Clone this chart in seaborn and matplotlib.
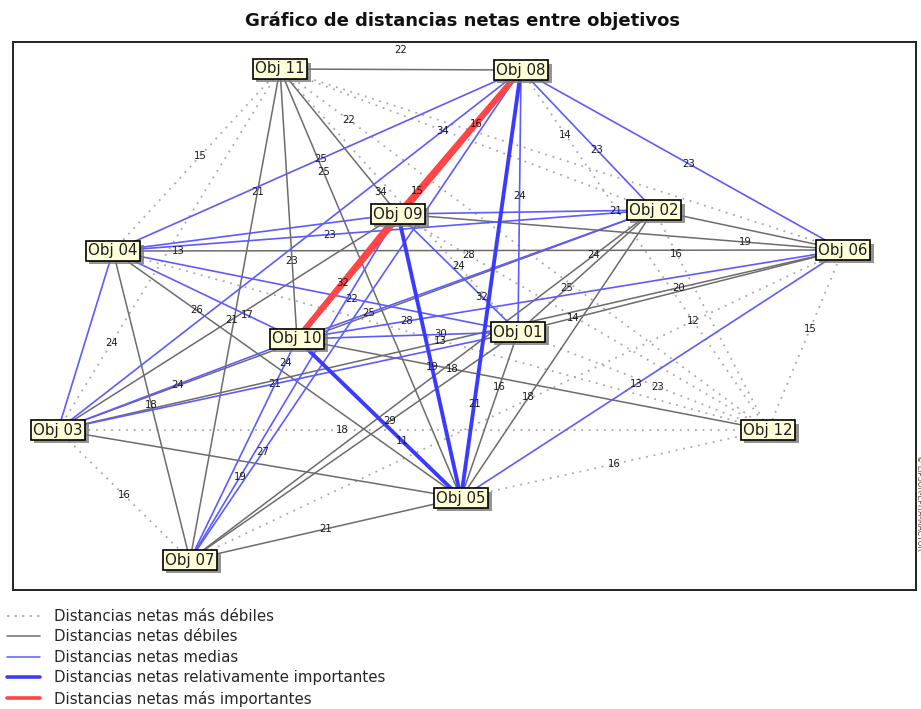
import matplotlib
matplotlib.use("Agg")
import matplotlib.pyplot as plt
import matplotlib.patheffects as pe
from matplotlib.lines import Line2D
import numpy as np
import pandas as pd
import seaborn as sns

# nodos (posiciones del grafo, en unidades de la figura)
node_names = ["Obj 01", "Obj 02", "Obj 03", "Obj 04", "Obj 05", "Obj 06",
              "Obj 07", "Obj 08", "Obj 09", "Obj 10", "Obj 11", "Obj 12"]
node_x = [518, 654, 58, 113, 461, 843, 190, 521, 398, 297, 280, 768]
node_y = [332, 210, 430, 251, 498, 250, 560, 70, 214, 339, 69, 430]

# aristas: origen, destino, categoria (0..4), distancia neta, posicion de la etiqueta
edge_a = [1, 1, 1, 1, 1, 1, 1, 1, 1, 1, 1,
          2, 2, 2, 2, 2, 2, 2, 2, 2, 2,
          3, 3, 3, 3, 3, 3, 3, 3, 3,
          4, 4, 4, 4, 4, 4, 4, 4,
          5, 5, 5, 5, 5, 5, 5,
          6, 6, 6, 6, 6, 6,
          7, 7, 7, 7,
          8, 8, 8, 8,
          9, 9, 9,
          10, 10, 11]
edge_b = [2, 3, 4, 5, 6, 7, 8, 9, 10, 11, 12,
          3, 4, 5, 6, 7, 8, 9, 10, 11, 12,
          4, 5, 6, 7, 8, 9, 10, 11, 12,
          5, 6, 7, 8, 9, 10, 11, 12,
          6, 7, 8, 9, 10, 11, 12,
          7, 8, 9, 10, 11, 12,
          8, 9, 10, 11,
          9, 10, 11, 12,
          10, 11, 12,
          11, 12, 12]
edge_cat = [1, 2, 2, 1, 1, 1, 2, 2, 2, 0, 0,
            1, 2, 1, 1, 1, 2, 2, 2, 0, 0,
            2, 1, 1, 0, 2, 1, 2, 0, 0,
            1, 1, 1, 2, 2, 2, 0, 0,
            2, 1, 3, 3, 3, 1, 0,
            0, 2, 1, 2, 0, 0,
            2, 2, 2, 1,
            4, 4, 1, 0,
            4, 1, 0,
            1, 1, 0]
edge_val = [25, 21, 22, 16, 14, 29, 24, 32, 30, 24, 23,
            16, 23, 18, 19, 24, 23, 21, 25, 14, 16,
            24, 16, 20, 16, 34, 21, 24, 24, 18,
            26, 13, 18, 25, 23, 17, 15, 13,
            13, 21, 21, 19, 11, 25, 16,
            12, 23, 19, 28, 14, 15,
            27, 19, 24, 21,
            15, 16, 22, 14,
            32, 34, 28,
            23, 18, 22]
# None = etiqueta tapada en el original
label_t = [0.36, 0.53, 0.41, 0.33, 0.17, 0.39, 0.52, 0.30, 0.35, 0.25, 0.56,
           None, 0.60, 0.65, None, 0.13, 0.43, 0.15, 0.80, None, 0.20,
           None, None, 0.79, 0.50, 0.83, 0.51, 0.50, 0.24, 0.40,
           0.24, 0.09, 0.50, 0.51, None, 0.73, 0.52, 0.50,
           0.46, 0.50, 0.22, 0.46, 0.36, 0.76, 0.50,
           0.23, 0.48, 0.22, 0.80, None, 0.44,
           0.22, 0.24, 0.89, 0.75,
           0.84, 0.20, 0.50, 0.18,
           0.55, 0.15, 0.19,
           0.29, 0.33, 0.14]

cat_names = ["Distancias netas más débiles",
             "Distancias netas débiles",
             "Distancias netas medias",
             "Distancias netas relativamente importantes",
             "Distancias netas más importantes"]
cat_colors = ["#a9a9a9", "#6c6c6c", "#5c5cff", "#3b3bff", "#ff4545"]
cat_widths = [1.3, 1.1, 1.2, 2.8, 4.0]
cat_dashes = [(1, 3.2), "", "", "", ""]

# tabla larga para seaborn: dos puntos por arista
rows = []
for i, (a, b, c) in enumerate(zip(edge_a, edge_b, edge_cat)):
    for n in (a, b):
        rows.append({"edge": i, "x": node_x[n - 1], "y": node_y[n - 1],
                     "cat": cat_names[c]})
df = pd.DataFrame(rows)

sns.set_style("white")
plt.rcParams["font.family"] = ["DejaVu Sans"]

fig = plt.figure(figsize=(9.21, 7.09), dpi=100)
ax = fig.add_axes([13 / 921, 1 - 590 / 709, 903 / 921, 548 / 709])

sns.lineplot(data=df, x="x", y="y", units="edge", estimator=None, sort=False,
             hue="cat", size="cat", style="cat", hue_order=cat_names,
             size_order=cat_names, style_order=cat_names,
             palette=dict(zip(cat_names, cat_colors)),
             sizes=dict(zip(cat_names, cat_widths)),
             dashes=dict(zip(cat_names, cat_dashes)),
             legend=False, ax=ax)
for ln in ax.lines:
    if ln.get_linewidth() >= 3.5:
        ln.set_zorder(3)
    elif ln.get_linewidth() >= 2.5:
        ln.set_zorder(2.5)

# etiquetas de las aristas
for a, b, v, t in zip(edge_a, edge_b, edge_val, label_t):
    if t is None:
        continue
    xa, ya = node_x[a - 1], node_y[a - 1]
    xb, yb = node_x[b - 1], node_y[b - 1]
    px = xa + t * (xb - xa)
    py = ya + t * (yb - ya)
    if (a, b) == (8, 11):
        ax.annotate(str(v), (px, py), xytext=(0, 14), textcoords="offset points",
                    ha="center", va="center", fontsize=7.3, color="#1a1a1a", zorder=4)
    else:
        ax.text(px, py, str(v), ha="center", va="center", fontsize=7.3,
                color="#1a1a1a", zorder=4)

# cajas de los objetivos con sombra
for name, x, y in zip(node_names, node_x, node_y):
    txt = ax.text(x, y, name, ha="center", va="center", fontsize=10.8, color="#1c1c1c",
                  bbox=dict(boxstyle="square,pad=0.16", fc="#ffffd9", ec="black", lw=1.2),
                  zorder=6)
    txt.get_bbox_patch().set_path_effects(
        [pe.SimplePatchShadow(offset=(2.5, -2.5), shadow_rgbFace="#7a7a7a", alpha=0.8),
         pe.Normal()])

ax.set_xlim(13, 916)
ax.set_ylim(590, 42)
ax.set_xticks([])
ax.set_yticks([])
ax.set_xlabel("")
ax.set_ylabel("")
for sp in ax.spines.values():
    sp.set_visible(True)
    sp.set_color("#222222")
    sp.set_linewidth(1.4)

fig.text(0.502, 0.971, "Gráfico de distancias netas entre objetivos",
         ha="center", va="center", fontsize=13, fontweight="bold", color="#111111")

fig.text(0.998, 0.29, "© LIPSOR-EPITA-MACTOR", rotation=270, ha="center",
         va="center", fontsize=5.5, color="#6b4a2a")

handles = [Line2D([], [], color=c, lw=w) for c, w in
           zip(cat_colors, [1.2, 1.1, 1.1, 2.6, 2.6])]
handles[0].set_dashes((1.5, 3))
fig.legend(handles, cat_names, loc="upper left", bbox_to_anchor=(0.008, 0.141),
           frameon=False, fontsize=10.8, handlelength=2.2, handletextpad=0.9,
           labelspacing=0.36, borderaxespad=0, borderpad=0)

fig.savefig("out.png", dpi=100)
